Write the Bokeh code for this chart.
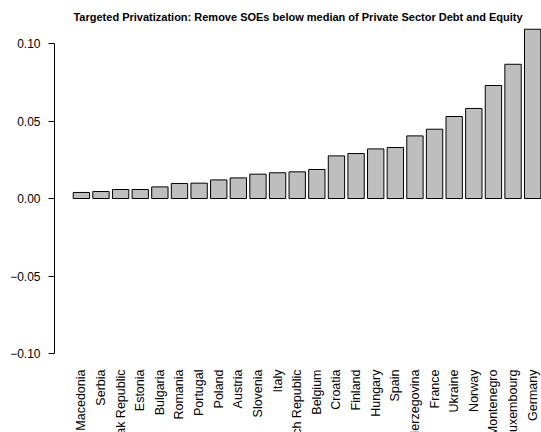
import math
from bokeh.plotting import figure
from bokeh.models import ColumnDataSource, LabelSet, Label, FixedTicker, Range1d
from bokeh.core.properties import value
from bokeh.embed import file_html
from bokeh.resources import INLINE

countries = ["Macedonia", "Serbia", "Slovak Republic", "Estonia", "Bulgaria", "Romania",
             "Portugal", "Poland", "Austria", "Slovenia", "Italy", "Czech Republic",
             "Belgium", "Croatia", "Finland", "Hungary", "Spain", "Bosnia and Herzegovina",
             "France", "Ukraine", "Norway", "Montenegro", "Luxembourg", "Germany"]
values = [0.0039, 0.0045, 0.0058, 0.0058, 0.0075, 0.0097,
          0.0099, 0.0120, 0.0133, 0.0157, 0.0166, 0.0172,
          0.0187, 0.0275, 0.0290, 0.0320, 0.0329, 0.0404,
          0.0447, 0.0529, 0.0581, 0.0729, 0.0866, 0.1092]
y_ticks = [-0.10, -0.05, 0.0, 0.05, 0.10]
y_tick_labels = ["\u22120.10", "\u22120.05", "0.00", "0.05", "0.10"]
title_text = "Targeted Privatization: Remove SOEs below median of Private Sector Debt and Equity"

FONT = "Liberation Sans"
bar_w = 1.0
space = 0.2
n = len(values)
xs = [space + bar_w / 2 + i * (bar_w + space) for i in range(n)]

W, H = 541, 432
left = 54
ppu = 1550.0          # pixels per y unit
zero_px = 198.0       # screen row of y = 0
x_start, x_end = -0.944, 28.84
y_end = zero_px / ppu
y_start = -(H - zero_px) / ppu

p = figure(width=W, height=H, output_backend="svg", toolbar_location=None,
           x_range=Range1d(x_start, x_end), y_range=Range1d(y_start, y_end),
           min_border_left=left, min_border_right=0, min_border_top=0,
           min_border_bottom=0, x_axis_location=None)
p.outline_line_color = None
p.xgrid.visible = False
p.ygrid.visible = False
p.background_fill_color = "white"
p.border_fill_color = "white"

label_y = -(369 - zero_px) / ppu
src = ColumnDataSource(dict(x=xs, top=values, name=countries, ly=[label_y] * n))
p.vbar(x="x", top="top", bottom=0, width=bar_w, source=src,
       fill_color="#bebebe", line_color="black", line_width=1)

ya = p.yaxis[0]
ya.ticker = FixedTicker(ticks=y_ticks)
ya.major_label_overrides = {t: l for t, l in zip(y_ticks, y_tick_labels)}
ya.bounds = (-0.10, 0.10)
ya.minor_tick_line_color = None
ya.major_tick_in = 0
ya.major_tick_out = 6
ya.major_label_standoff = 8
ya.axis_line_color = "black"
ya.major_tick_line_color = "black"
ya.major_label_text_font = FONT
ya.major_label_text_font_size = "12px"
ya.major_label_text_color = "black"

labels = LabelSet(x="x", y="ly", text="name", source=src, angle=math.pi / 2,
                  text_align="right", text_baseline="middle",
                  text_font=value(FONT), text_font_size=value("12.5px"),
                  text_color="black")
p.add_layout(labels)

title = Label(x=(x_start + x_end) / 2, y=(zero_px - 16.5) / ppu, text=title_text,
              text_align="center", text_baseline="alphabetic",
              text_font=FONT, text_font_size="11px", text_font_style="bold",
              text_color="black")
p.add_layout(title)

open("out.html", "w").write(file_html(p, INLINE))
